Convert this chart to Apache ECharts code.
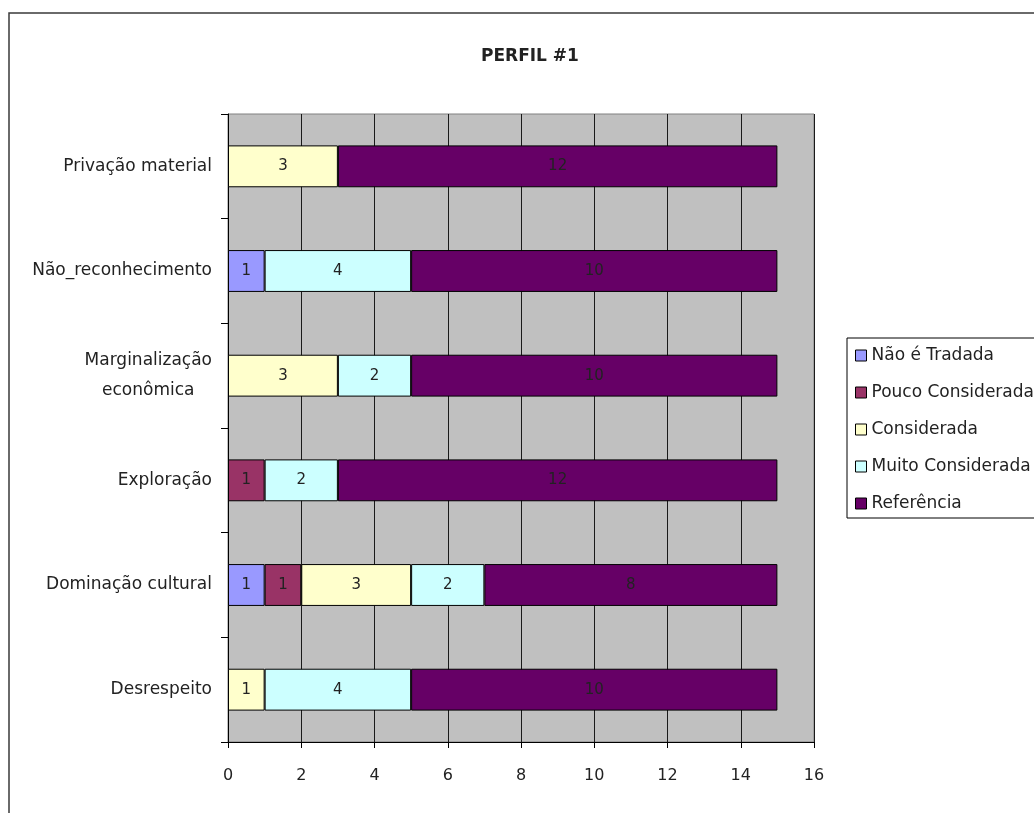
<!DOCTYPE html>
<html>
<head>
<meta charset="utf-8">
<title>PERFIL #1</title>
<script src="https://cdn.jsdelivr.net/npm/echarts@6/dist/echarts.min.js"></script>
<style>
  html, body { margin: 0; padding: 0; background: #ffffff; }
  #chart { width: 1034px; height: 813px; }
</style>
</head>
<body>
<div id="chart"></div>
<script>
// Categories listed bottom to top (category axis on y grows upward)
const categories = [
  'Desrespeito',
  'Dominação cultural',
  'Exploração',
  'Marginalização\neconômica',
  'Não_reconhecimento',
  'Privação material'
];

const seriesNames = [
  'Não é Tradada',
  'Pouco Considerada',
  'Considerada',
  'Muito Considerada',
  'Referência'
];

// Counts per category; null means no segment for that rating
const naoETratada        = [null, 1, null, null, 1, null];
const poucoConsiderada   = [null, 1, 1, null, null, null];
const considerada        = [1, 3, null, 3, null, 3];
const muitoConsiderada   = [4, 2, 2, 2, 4, null];
const referencia         = [10, 8, 12, 10, 10, 12];

const xTicks = [0, 2, 4, 6, 8, 10, 12, 14, 16];

const seriesData = [naoETratada, poucoConsiderada, considerada, muitoConsiderada, referencia];
const seriesColors = ['#9999FF', '#993366', '#FFFFCC', '#CCFFFF', '#660066'];

const FONT = 'DejaVu Sans';
const TEXT = '#222222';

const chart = echarts.init(document.getElementById('chart'), null, { renderer: 'canvas' });

const option = {
  backgroundColor: '#ffffff',
  animation: false,
  title: {
    text: 'PERFIL #1',
    left: 476,
    top: 43,
    textStyle: { fontFamily: FONT, fontSize: 17, fontWeight: 'bold', color: TEXT }
  },
  graphic: [
    {
      type: 'rect',
      silent: true,
      shape: { x: 9, y: 13, width: 1100, height: 900 },
      style: { fill: 'none', stroke: '#3a3a3a', lineWidth: 1.5 },
      z: 100
    },
    {
      type: 'rect',
      silent: true,
      shape: { x: 847, y: 338, width: 220, height: 180 },
      style: { fill: '#ffffff', stroke: '#000000', lineWidth: 1 },
      z: -1
    }
  ],
  legend: {
    orient: 'vertical',
    left: 847,
    top: 338,
    padding: [9, 8, 9, 8],
    itemWidth: 11,
    itemHeight: 11,
    itemGap: 20,
    icon: 'rect',
    selectedMode: false,
    data: seriesNames,
    itemStyle: { borderColor: '#000000', borderWidth: 1 },
    textStyle: { fontFamily: FONT, fontSize: 17, color: TEXT, lineHeight: 16 }
  },
  grid: {
    left: 228,
    right: 220,
    top: 114,
    bottom: 71,
    show: true,
    backgroundColor: '#C0C0C0',
    borderColor: '#808080',
    borderWidth: 1,
    containLabel: false
  },
  xAxis: {
    type: 'value',
    min: xTicks[0],
    max: xTicks[xTicks.length - 1],
    interval: xTicks[1] - xTicks[0],
    axisLine: { show: true, onZero: false, lineStyle: { color: '#000000', width: 1 } },
    axisTick: { show: true, inside: false, length: 6, lineStyle: { color: '#000000' } },
    axisLabel: { margin: 26, fontFamily: FONT, fontSize: 16, color: TEXT },
    splitLine: { show: true, lineStyle: { color: '#1a1a1a', width: 1 } }
  },
  yAxis: {
    type: 'category',
    data: categories,
    axisLine: { show: true, lineStyle: { color: '#000000', width: 1 } },
    axisTick: { show: true, inside: false, length: 7, lineStyle: { color: '#000000' } },
    splitLine: { show: false },
    axisLabel: {
      margin: 16,
      fontFamily: FONT,
      fontSize: 17,
      color: TEXT,
      formatter: function (v) {
        return v.split('\n').map(function (s) { return '{c|' + s + '}'; }).join('\n');
      },
      rich: {
        c: { align: 'center', fontFamily: FONT, fontSize: 17, color: TEXT, lineHeight: 30 }
      }
    }
  },
  series: seriesNames.map(function (name, i) {
    return {
      name: name,
      type: 'bar',
      stack: 'total',
      barWidth: '40%',
      data: seriesData[i],
      itemStyle: { color: seriesColors[i], borderColor: '#000000', borderWidth: 1 },
      label: {
        show: true,
        position: 'inside',
        fontFamily: FONT,
        fontSize: 15,
        color: TEXT
      },
      emphasis: { disabled: true }
    };
  })
};

chart.setOption(option);
</script>
</body>
</html>
